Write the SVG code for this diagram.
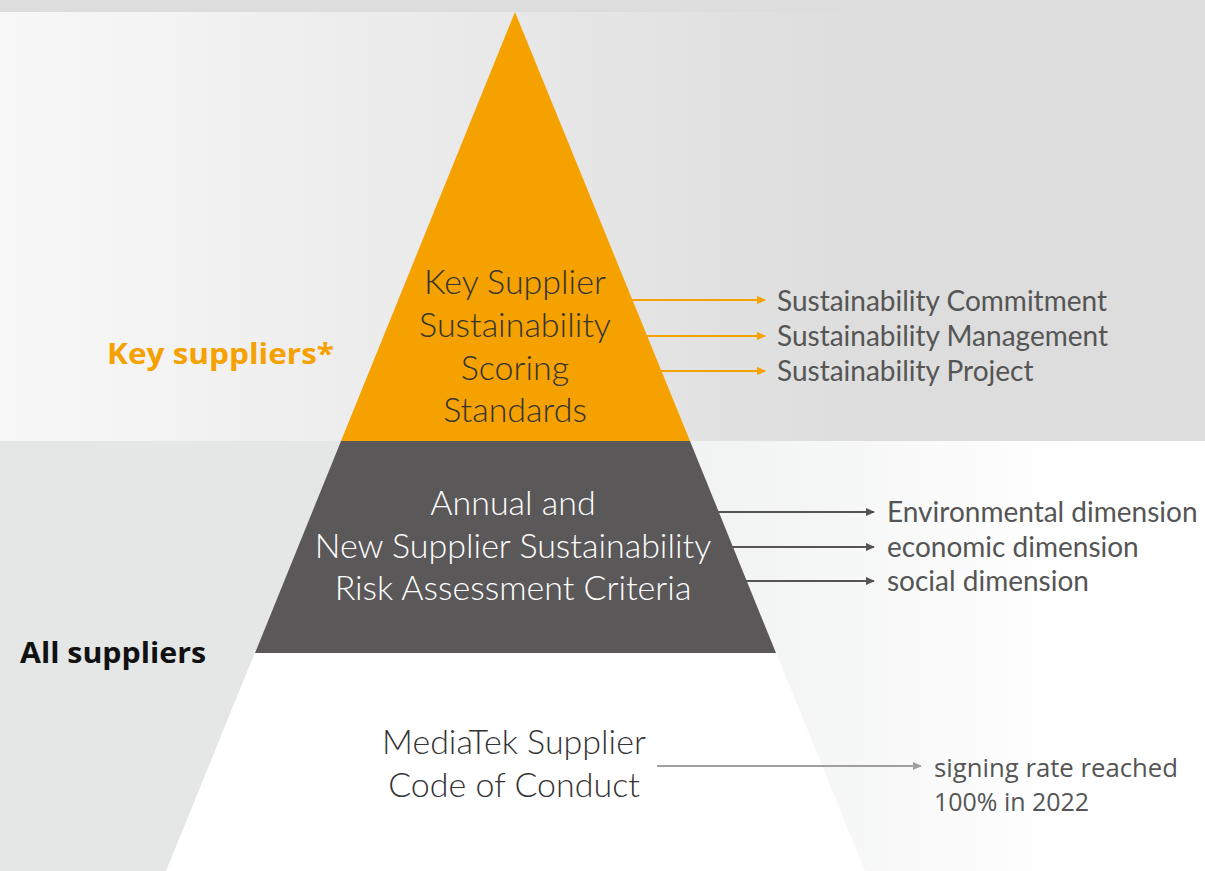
<svg xmlns="http://www.w3.org/2000/svg" width="1205" height="871" viewBox="0 0 1205 871">
<defs>
<linearGradient id="gTop" x1="0" y1="0" x2="1205" y2="0" gradientUnits="userSpaceOnUse">
<stop offset="0" stop-color="#f8f8f8"/><stop offset="0.72" stop-color="#dcdddc"/><stop offset="1" stop-color="#dcdddc"/>
</linearGradient>
<linearGradient id="gRight" x1="700" y1="0" x2="1205" y2="0" gradientUnits="userSpaceOnUse">
<stop offset="0" stop-color="#f1f2f2"/><stop offset="0.75" stop-color="#ffffff"/><stop offset="1" stop-color="#ffffff"/>
</linearGradient>
<marker id="aO" markerWidth="10" markerHeight="10" refX="8" refY="5" orient="auto" markerUnits="userSpaceOnUse"><path d="M0,1 L9,5 L0,9 Z" fill="#f5a100"/></marker>
<marker id="aD" markerWidth="10" markerHeight="10" refX="8" refY="5" orient="auto" markerUnits="userSpaceOnUse"><path d="M0,1 L9,5 L0,9 Z" fill="#555354"/></marker>
<marker id="aG" markerWidth="10" markerHeight="10" refX="8" refY="5" orient="auto" markerUnits="userSpaceOnUse"><path d="M0,1 L9,5 L0,9 Z" fill="#a0a0a0"/></marker>
</defs>
<style>
.t{font-family:Lato,"Open Sans","Liberation Sans",sans-serif;font-weight:300;font-size:34px;text-anchor:middle}
.l{font-family:Lato,"Open Sans","Liberation Sans",sans-serif;font-size:28px;fill:#555555}
.s{font-family:"Open Sans","Liberation Sans",sans-serif;font-size:25px;fill:#555555}
.b{font-family:"Open Sans","Liberation Sans",sans-serif;font-weight:bold;font-size:28px}
.ao{stroke:#f5a100;stroke-width:2;fill:none;marker-end:url(#aO)}
.ad{stroke:#555354;stroke-width:2;fill:none;marker-end:url(#aD)}
.ag{stroke:#a0a0a0;stroke-width:2;fill:none;marker-end:url(#aG)}
</style>
<g id="background">
<rect x="0" y="0" width="1205" height="441" fill="url(#gTop)"/>
<rect x="0" y="0" width="1205" height="12" fill="#dcdddc"/>
<rect x="0" y="441" width="1205" height="430" fill="#ffffff"/>
<polygon points="0,441 341,441 166,871 0,871" fill="#e5e6e6"/>
<polygon points="690,441 1205,441 1205,871 865,871" fill="url(#gRight)"/>
</g>
<g id="tier-top">
<polygon points="515,12 690,441 341,441" fill="#f5a100"/>
<text class="t" fill="#333333"><tspan x="515" y="294">Key Supplier</tspan><tspan x="515" y="337">Sustainability</tspan><tspan x="515" y="380">Scoring</tspan><tspan x="515" y="422">Standards</tspan></text>
</g>
<g id="tier-middle">
<polygon points="341,441 690,441 776,653 255,653" fill="#5a5859"/>
<text class="t" fill="#ffffff"><tspan x="513" y="515">Annual and</tspan><tspan x="513" y="558">New Supplier Sustainability</tspan><tspan x="513" y="600">Risk Assessment Criteria</tspan></text>
</g>
<g id="tier-bottom">
<text class="t" fill="#333333"><tspan x="514" y="754">MediaTek Supplier</tspan><tspan x="514" y="797">Code of Conduct</tspan></text>
</g>
<g id="label-key"><text class="b" x="107" y="364" fill="#f5a100" textLength="227" lengthAdjust="spacingAndGlyphs">Key suppliers*</text></g>
<g id="label-all"><text class="b" x="20" y="663" fill="#111111" textLength="186" lengthAdjust="spacingAndGlyphs">All suppliers</text></g>
<g id="connectors">
<line class="ao" x1="632" y1="300" x2="765" y2="300"/>
<line class="ao" x1="647" y1="336" x2="765" y2="336"/>
<line class="ao" x1="661" y1="371" x2="765" y2="371"/>
<line class="ad" x1="718" y1="512" x2="874" y2="512"/>
<line class="ad" x1="732" y1="547" x2="874" y2="547"/>
<line class="ad" x1="746" y1="581" x2="874" y2="581"/>
<line class="ag" x1="657" y1="766" x2="921" y2="766"/>
</g>
<g id="labels-top">
<text class="l" x="777" y="311">Sustainability Commitment</text>
<text class="l" x="777" y="346">Sustainability Management</text>
<text class="l" x="777" y="381">Sustainability Project</text>
</g>
<g id="labels-middle">
<text class="l" x="887" y="522">Environmental dimension</text>
<text class="l" x="887" y="557">economic dimension</text>
<text class="l" x="887" y="591">social dimension</text>
</g>
<g id="labels-bottom">
<text class="s" x="934" y="777" textLength="244" lengthAdjust="spacingAndGlyphs">signing rate reached</text>
<text class="s" x="934" y="811" textLength="155" lengthAdjust="spacingAndGlyphs">100% in 2022</text>
</g>
</svg>
